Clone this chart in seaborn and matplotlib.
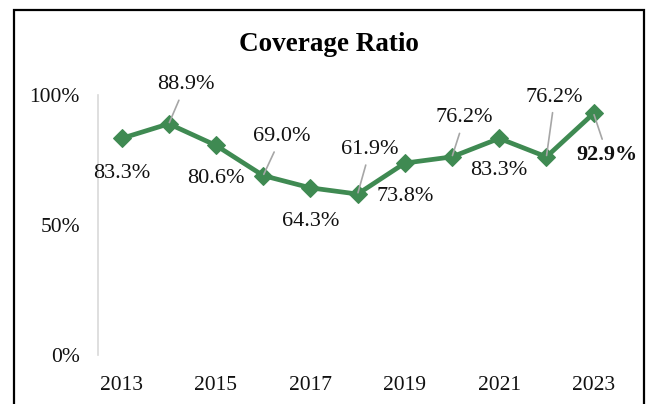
import matplotlib
matplotlib.use("Agg")
import matplotlib.pyplot as plt
import seaborn as sns
import pandas as pd
from matplotlib.patches import Rectangle
from matplotlib.ticker import PercentFormatter

# data
years = [2013, 2014, 2015, 2016, 2017, 2018, 2019, 2020, 2021, 2022, 2023]
coverage = [0.833, 0.889, 0.806, 0.690, 0.643, 0.619, 0.738, 0.762, 0.833, 0.762, 0.929]
tick_years = [2013, 2015, 2017, 2019, 2021, 2023]

# label offsets (points, relative to marker) and whether a leader line is drawn
label_offsets = [(0, -25), (12, 28), (0, -24), (13, 28), (0, -24), (9, 32),
                 (0, -24), (9, 28), (0, -23), (6, 43), (10, -30)]
leader = [False, True, False, True, False, True, False, True, False, True, True]

sns.set_theme(style="white")
plt.rcParams['font.family'] = ['Liberation Serif', 'DejaVu Serif']

green = "#3f8a52"
df = pd.DataFrame({"year": years, "coverage": coverage})

fig = plt.figure(figsize=(6.49, 4.04), dpi=100)
ax = fig.add_axes([0.151, 0.121, 0.80, 0.644])

sns.lineplot(data=df, x="year", y="coverage", ax=ax, color=green,
             linewidth=3.4, marker="D", markersize=9, markeredgecolor=green)

ax.set_ylim(0, 1)
ax.set_xlim(2012.5, 2023.5)
ax.set_yticks([0, 0.5, 1])
ax.yaxis.set_major_formatter(PercentFormatter(1.0, decimals=0))
ax.set_xticks(tick_years)
ax.set_xticklabels([str(y) for y in tick_years])
ax.tick_params(axis="y", length=0, pad=13, labelsize=15.5, colors="#111111")
ax.tick_params(axis="x", length=0, pad=15, labelsize=15.5, colors="#111111")
ax.set_xlabel("")
ax.set_ylabel("")

for side in ["top", "right", "bottom"]:
    ax.spines[side].set_visible(False)
ax.spines["left"].set_color("#d9d9d9")
ax.spines["left"].set_linewidth(1.2)

# data labels
for i, (yr, val) in enumerate(zip(years, coverage)):
    weight = "bold" if i == len(years) - 1 else "normal"
    kw = {}
    if leader[i]:
        kw["arrowprops"] = dict(arrowstyle="-", color="#a6a6a6", lw=1.2,
                                shrinkA=2, shrinkB=1)
    ax.annotate(f"{val * 100:.1f}%", xy=(yr, val), xytext=label_offsets[i],
                textcoords="offset points", ha="center", va="center",
                fontsize=16, fontweight=weight, color="#111111", **kw)

fig.text(0.507, 0.891, "Coverage Ratio", ha="center", va="center",
         fontsize=19.5, fontweight="bold", color="black")

# chart frame (bottom edge runs past the image)
fig.patches.append(Rectangle((0.021, -0.1), 0.972, 1.076, transform=fig.transFigure,
                             fill=False, edgecolor="black", linewidth=1.6))

fig.savefig("out.png", dpi=100)
